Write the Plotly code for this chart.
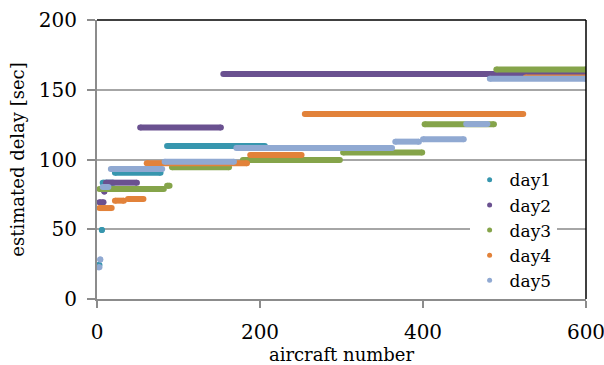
import plotly.graph_objects as go

# Each day: horizontal steps of estimated delay (start aircraft, end aircraft, delay [sec])
day_names = ["day1", "day2", "day3", "day4", "day5"]
colors = ["#3796AE", "#6A5190", "#85A44A", "#E2823A", "#90A9D2"]

day1_start = [2, 6, 7, 22, 86]
day1_end = [3, 6, 20, 78, 206]
day1_delay = [24.4, 49.5, 83.4, 90.5, 109.7]

day2_start = [3, 9, 11, 53, 155]
day2_end = [8, 9, 49, 152, 600]
day2_delay = [69.3, 77.0, 83.4, 123.0, 161.3]

day3_start = [3, 86, 92, 179, 302, 402, 490]
day3_end = [82, 89, 162, 298, 399, 487, 600]
day3_delay = [78.9, 81.2, 94.4, 99.6, 105.0, 125.2, 164.5]

day4_start = [3, 22, 38, 61, 188, 255, 526]
day4_end = [18, 33, 57, 184, 251, 523, 600]
day4_delay = [65.2, 70.5, 71.7, 97.3, 103.2, 132.6, 158.8]

day5_start = [2, 4, 7, 17, 83, 171, 366, 400, 453, 482]
day5_end = [3, 4, 14, 80, 168, 362, 395, 450, 479, 600]
day5_delay = [22.7, 28.4, 80.3, 93.2, 98.4, 108.2, 112.8, 114.5, 125.4, 157.8]

series = [
    (day1_start, day1_end, day1_delay),
    (day2_start, day2_end, day2_delay),
    (day3_start, day3_end, day3_delay),
    (day4_start, day4_end, day4_delay),
    (day5_start, day5_end, day5_delay),
]

FONT = "DejaVu Serif"

fig = go.Figure()
for name, color, (s, e, d) in zip(day_names, colors, series):
    xs, ys = [], []
    for a, b, v in zip(s, e, d):
        xs += [a, b, None]
        ys += [v, v, None]
    fig.add_trace(go.Scatter(
        x=xs, y=ys, mode="lines+markers", name=name, showlegend=False,
        legendgroup=name,
        line=dict(color=color, width=6),
        marker=dict(color=color, size=6, line=dict(width=0)),
    ))

for name, color in zip(day_names, colors):
    fig.add_trace(go.Scatter(
        x=[None], y=[None], mode="markers", name=name, legendgroup=name,
        marker=dict(color=color, size=5),
    ))

fig.update_layout(
    width=604, height=365,
    margin=dict(l=97, r=18, t=20, b=66, autoexpand=False),
    plot_bgcolor="white", paper_bgcolor="white",
    font=dict(family=FONT, color="black"),
    legend=dict(
        x=0.762, y=0.49, xanchor="left", yanchor="top",
        bgcolor="white", font=dict(size=17, family=FONT),
        itemwidth=30, tracegroupgap=0,
    ),
    shapes=[
        dict(type="line", xref="paper", yref="paper", x0=0, x1=1, y0=1, y1=1,
             line=dict(color="black", width=1.5)),
        dict(type="line", xref="paper", yref="paper", x0=1, x1=1, y0=0, y1=1,
             line=dict(color="black", width=1.5)),
    ],
)

fig.update_xaxes(
    range=[0, 600], tickvals=[0, 200, 400, 600], automargin=False,
    showgrid=False, zeroline=False,
    showline=True, linecolor="#8C8C8C", linewidth=2,
    ticks="outside", ticklen=7, tickcolor="#8C8C8C", tickwidth=1.5,
    tickfont=dict(size=20, family=FONT), ticklabelstandoff=7,
    ticklabeloverflow="allow",
    title=dict(text="aircraft number", font=dict(size=18, family=FONT), standoff=2),
)
fig.update_yaxes(
    range=[0, 200], tickvals=[0, 50, 100, 150, 200], automargin=False,
    showgrid=True, gridcolor="#A6A6A6", gridwidth=1.5, zeroline=False,
    showline=True, linecolor="#8C8C8C", linewidth=2,
    ticks="outside", ticklen=8, tickcolor="#8C8C8C", tickwidth=1.5,
    tickfont=dict(size=20, family=FONT), ticklabelstandoff=6,
    ticklabeloverflow="allow",
    title=dict(text="estimated delay [sec]", font=dict(size=18, family=FONT), standoff=10),
)

fig.write_html("out.html")
